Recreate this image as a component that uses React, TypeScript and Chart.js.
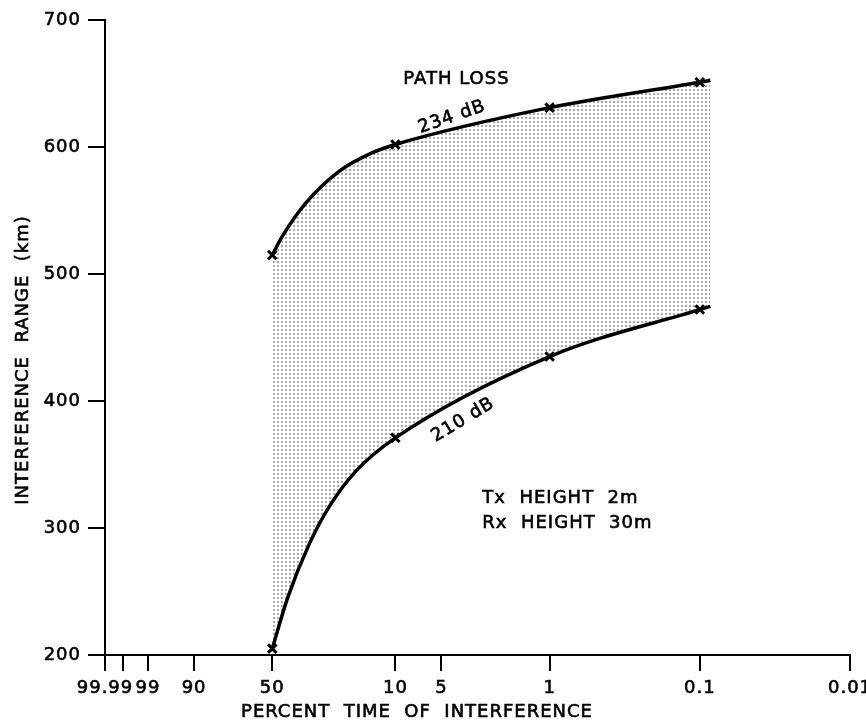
import React, { useEffect, useRef } from "react";
import { Chart, registerables } from "chart.js";

Chart.register(...registerables);

// ---- x axis: percent time of interference (non-linear probability scale) ----
const TICK_PERCENTS = [99.99, 99.9, 99, 90, 50, 10, 5, 1, 0.1, 0.01];
const TICK_LABELS = ["99.99", "", "99", "90", "50", "10", "5", "1", "0.1", "0.01"];
// relative location of each printed tick along the axis (0 = left end, 1 = right end)
const TICK_STOPS = [0, 0.0242, 0.0578, 0.1196, 0.2245, 0.3898, 0.4516, 0.5968, 0.7984, 1];

// ---- y axis ----
const Y_MIN = 200;
const Y_MAX = 700;
const Y_STEP = 100;

// ---- plotted points (x marks) ----
const MARK_PERCENT = [50, 10, 1, 0.1];
const LOSS_234_MARKS = [515, 602, 631, 651];
const LOSS_210_MARKS = [205, 371, 435, 472];

// ---- traced smooth curves ----
const LOSS_234_CURVE_PERCENT = [50, 43.7, 32.2, 20.8, 13.5, 10, 1, 0.1, 0.085];
const LOSS_234_CURVE_RANGE = [515, 530, 556, 581, 595.5, 602, 631, 651, 652.5];
const LOSS_210_CURVE_PERCENT = [50, 40.9, 30.8, 23.7, 16.7, 10, 1, 0.1, 0.085];
const LOSS_210_CURVE_RANGE = [205, 245, 287.5, 317, 345, 371, 435, 472, 474.5];

const FONT_FAMILY = "'DejaVu Sans', 'Liberation Sans', sans-serif";
const FONT_SIZE = 18;
const LETTER_SPACING = "1px";
const TEXT_STROKE = 0.6;

function toPos(p: number): number {
  const lp = Math.log10(p);
  const n = TICK_PERCENTS.length;
  for (let i = 0; i < n - 1; i++) {
    const a = Math.log10(TICK_PERCENTS[i]);
    const b = Math.log10(TICK_PERCENTS[i + 1]);
    if ((lp <= a && lp >= b) || i === n - 2) {
      return TICK_STOPS[i] + ((TICK_STOPS[i + 1] - TICK_STOPS[i]) * (lp - a)) / (b - a);
    }
  }
  return 0;
}

const NOTES = [
  { text: "PATH LOSS", p: 4.0, v: 653, angle: 0, align: "center" },
  { text: "234 dB", p: 4.27, v: 623.5, angle: -19, align: "center" },
  { text: "210 dB", p: 3.62, v: 385, angle: -31, align: "center" },
  { text: "Tx  HEIGHT  2m", p: 2.72, v: 323.5, angle: 0, align: "left" },
  { text: "Rx  HEIGHT  30m", p: 2.72, v: 304, angle: 0, align: "left" },
];

const X_TITLE = "PERCENT  TIME  OF  INTERFERENCE";
const Y_TITLE = "INTERFERENCE  RANGE  (km)";

export default function App() {
  const ref = useRef<HTMLCanvasElement>(null);

  useEffect(() => {
    const canvas = ref.current;
    if (!canvas) return;

    const pc = document.createElement("canvas");
    pc.width = 4;
    pc.height = 4;
    const pctx = pc.getContext("2d")!;
    pctx.fillStyle = "#ffffff";
    pctx.fillRect(0, 0, 4, 4);
    pctx.fillStyle = "#aaaaaa";
    pctx.fillRect(1, 1, 2, 2);
    const pattern = canvas.getContext("2d")!.createPattern(pc, "repeat")!;

    const font = { family: FONT_FAMILY, size: FONT_SIZE, weight: "normal" as const };

    const drawText = (ctx: CanvasRenderingContext2D, t: string, x: number, y: number) => {
      ctx.fillText(t, x, y);
      ctx.strokeText(t, x, y);
    };

    const textPlugin = {
      id: "textPlugin",
      beforeUpdate(chart: any) {
        chart.ctx.letterSpacing = LETTER_SPACING;
      },
      beforeDraw(chart: any) {
        chart.ctx.letterSpacing = LETTER_SPACING;
      },
      afterDraw(chart: any) {
        const { ctx, chartArea } = chart;
        const xs = chart.scales.x;
        const ys = chart.scales.y;
        ctx.save();
        ctx.letterSpacing = LETTER_SPACING;
        ctx.fillStyle = "#000";
        ctx.strokeStyle = "#000";
        ctx.lineWidth = TEXT_STROKE;
        ctx.font = `${FONT_SIZE}px ${FONT_FAMILY}`;
        ctx.textBaseline = "middle";
        for (const n of NOTES) {
          ctx.save();
          ctx.translate(xs.getPixelForValue(toPos(n.p)), ys.getPixelForValue(n.v));
          ctx.rotate((n.angle * Math.PI) / 180);
          ctx.textAlign = n.align;
          drawText(ctx, n.text, 0, 0);
          ctx.restore();
        }
        // axis titles
        ctx.textAlign = "center";
        drawText(ctx, X_TITLE, chartArea.left + 312, chartArea.bottom + 57);
        ctx.save();
        ctx.translate(chartArea.left - 82, chartArea.top + 340);
        ctx.rotate(-Math.PI / 2);
        drawText(ctx, Y_TITLE, 0, 0);
        ctx.restore();
        ctx.restore();
      },
    };

    const curve = (ps: number[], vs: number[]) => ps.map((p, i) => ({ x: toPos(p), y: vs[i] }));

    const markStyle = {
      showLine: false,
      pointStyle: "crossRot",
      pointRadius: 6,
      pointBorderWidth: 3,
      pointBorderColor: "#000",
      borderColor: "#000",
    };

    const chart = new Chart(canvas, {
      type: "line",
      data: {
        datasets: [
          {
            label: "234 dB",
            data: curve(LOSS_234_CURVE_PERCENT, LOSS_234_CURVE_RANGE),
            borderColor: "#000",
            borderWidth: 3.5,
            pointRadius: 0,
            cubicInterpolationMode: "monotone",
            fill: 1,
            backgroundColor: pattern,
          },
          {
            label: "210 dB",
            data: curve(LOSS_210_CURVE_PERCENT, LOSS_210_CURVE_RANGE),
            borderColor: "#000",
            borderWidth: 3.5,
            pointRadius: 0,
            cubicInterpolationMode: "monotone",
            fill: false,
          },
          { label: "234 dB points", data: curve(MARK_PERCENT, LOSS_234_MARKS), ...markStyle },
          { label: "210 dB points", data: curve(MARK_PERCENT, LOSS_210_MARKS), ...markStyle },
        ],
      },
      options: {
        animation: false,
        responsive: true,
        maintainAspectRatio: false,
        layout: { padding: { top: 20, right: 16, bottom: 0, left: 0 } },
        plugins: {
          legend: { display: false },
          tooltip: { enabled: false },
          filler: { drawTime: "beforeDatasetsDraw" },
        },
        scales: {
          x: {
            type: "linear",
            min: 0,
            max: 1,
            afterBuildTicks: (s: any) => {
              s.ticks = TICK_PERCENTS.map((p) => ({ value: toPos(p) }));
            },
            afterFit: (s: any) => {
              s.height = 69;
              s.paddingLeft = 0;
              s.paddingRight = 0;
            },
            ticks: {
              autoSkip: false,
              maxRotation: 0,
              minRotation: 0,
              color: "#000",
              textStrokeColor: "#000",
              textStrokeWidth: TEXT_STROKE,
              font,
              padding: 7,
              callback: (_v: any, i: number) => TICK_LABELS[i],
            },
            grid: {
              display: true,
              drawOnChartArea: false,
              drawTicks: true,
              tickLength: 16,
              color: "#000",
              lineWidth: 2,
            },
            border: { display: true, color: "#000", width: 2 },
          },
          y: {
            type: "linear",
            min: Y_MIN,
            max: Y_MAX,
            afterFit: (s: any) => {
              s.width = 105;
              s.paddingTop = 0;
              s.paddingBottom = 0;
            },
            ticks: {
              stepSize: Y_STEP,
              color: "#000",
              textStrokeColor: "#000",
              textStrokeWidth: TEXT_STROKE,
              font,
              padding: 7,
            },
            grid: {
              display: true,
              drawOnChartArea: false,
              drawTicks: true,
              tickLength: 17,
              color: "#000",
              lineWidth: 2,
            },
            border: { display: true, color: "#000", width: 2 },
          },
        },
      },
      plugins: [textPlugin],
    } as any);

    return () => chart.destroy();
  }, []);

  return (
    <div style={{ position: "absolute", left: 0, top: 0, width: 866, height: 724, background: "#fff" }}>
      <canvas ref={ref} />
    </div>
  );
}
